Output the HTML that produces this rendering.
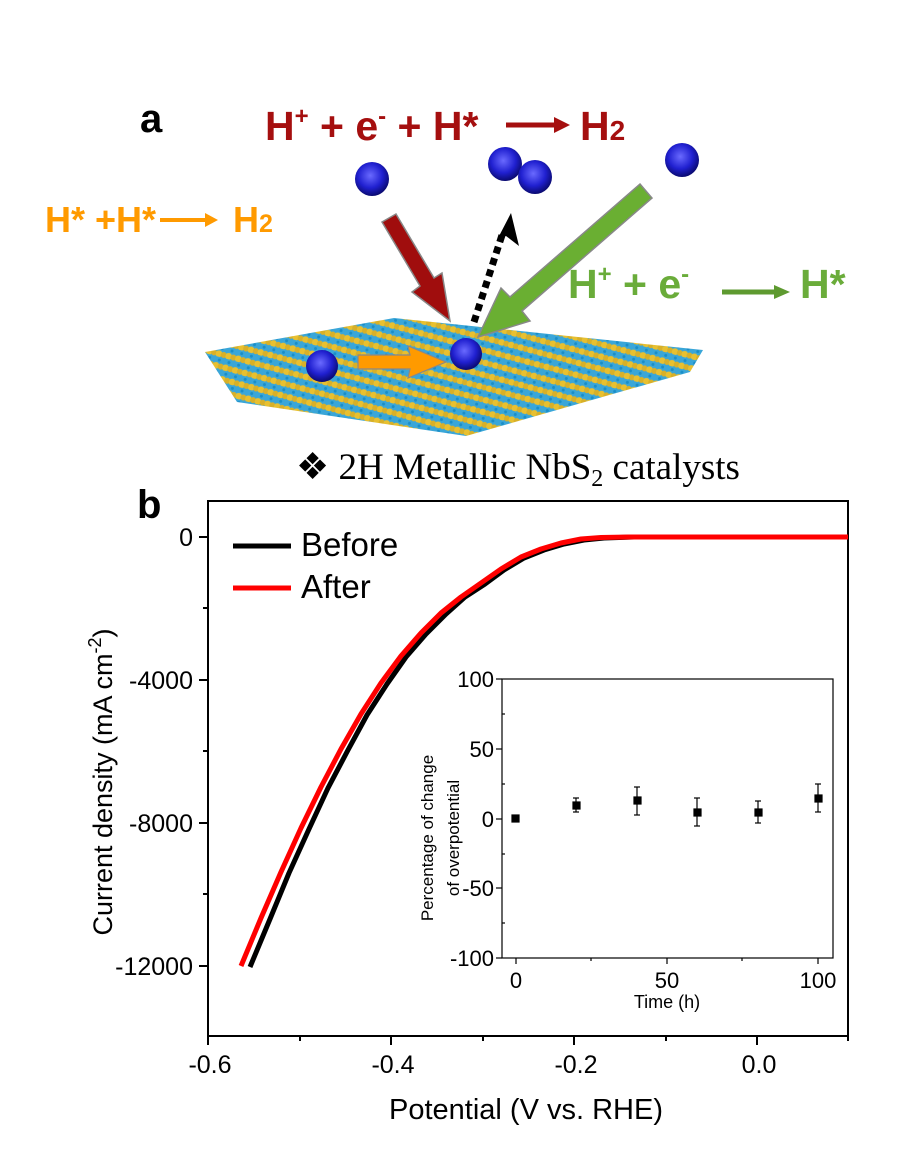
<!DOCTYPE html>
<html><head><meta charset="utf-8"><style>
html,body{margin:0;padding:0;background:#fff}
svg{display:block}
text{font-family:"Liberation Sans",Arial,sans-serif}
</style></head><body>
<svg width="905" height="1155" viewBox="0 0 905 1155" xmlns="http://www.w3.org/2000/svg">
<defs>
<radialGradient id="ball" cx="0.45" cy="0.4" r="0.6">
<stop offset="0" stop-color="#6a6aff"/><stop offset="0.6" stop-color="#2020d0"/><stop offset="1" stop-color="#0a0a70"/>
</radialGradient>
<pattern id="lat" width="12" height="10" patternUnits="userSpaceOnUse" patternTransform="rotate(-75)">
<rect width="12" height="10" fill="#3aa6d8"/>
<circle cx="3" cy="3" r="3.4" fill="#e8c030"/>
<circle cx="3" cy="8" r="3" fill="#d8b028"/>
<circle cx="9" cy="5" r="1.5" fill="#1a8ec8"/>
</pattern>
<clipPath id="sheet"><polygon points="205,352 394,318 703,350 690,372 466,436 237,402"/></clipPath>
</defs>

<!-- Panel a -->
<text x="140" y="132" font-size="40" font-weight="bold">a</text>
<text x="265" y="140" font-size="41" font-weight="bold" fill="#a50f0f">H<tspan font-size="24" dy="-16">+</tspan><tspan dy="16"> + e</tspan><tspan font-size="24" dy="-16">-</tspan><tspan dy="16"> + H*</tspan></text>
<line x1="506" y1="125" x2="558" y2="125" stroke="#a50f0f" stroke-width="5"/>
<polygon points="554,117 570,125 554,133" fill="#a50f0f"/>
<text x="580" y="140" font-size="41" font-weight="bold" fill="#a50f0f">H<tspan font-size="28">2</tspan></text>

<text x="45" y="232" font-size="36" font-weight="bold" fill="#ff9a00">H* +H*</text>
<line x1="160" y1="220" x2="210" y2="220" stroke="#ff9a00" stroke-width="4"/>
<polygon points="205,213 218,220 205,227" fill="#ff9a00"/>
<text x="233" y="232" font-size="36" font-weight="bold" fill="#ff9a00">H<tspan font-size="25">2</tspan></text>

<text x="568" y="298" font-size="41" font-weight="bold" fill="#6aac3a">H<tspan font-size="24" dy="-16">+</tspan><tspan dy="16"> + e</tspan><tspan font-size="24" dy="-16">-</tspan></text>
<line x1="722" y1="292" x2="778" y2="292" stroke="#5e9a30" stroke-width="5"/>
<polygon points="774,285 790,292 774,299" fill="#5e9a30"/>
<text x="800" y="298" font-size="41" font-weight="bold" fill="#6aac3a">H*</text>

<!-- sheet -->
<g clip-path="url(#sheet)"><rect x="200" y="300" width="510" height="140" fill="url(#lat)"/></g>

<!-- arrows -->
<polygon points="382,222 396,214 434,278 442,273 450,321 412,292 420,286" fill="#a00d0d" stroke="#888" stroke-width="1.5"/>
<polygon points="640,184 652,198 522,311 530,321 478,337 501,288 510,297" fill="#6aaf32" stroke="#888" stroke-width="1.5"/>
<line x1="474" y1="322" x2="503" y2="232" stroke="#000" stroke-width="7" stroke-dasharray="7,5"/>
<polygon points="497,240 511,213 519,246 506,236" fill="#000"/>
<polygon points="358,355 410,355 408,346 446,362 408,378 410,369 358,369" fill="#ff9a00" stroke="#888" stroke-width="1.2"/>

<circle cx="372" cy="179" r="17" fill="url(#ball)"/>
<circle cx="505" cy="164" r="17" fill="url(#ball)"/>
<circle cx="535" cy="177" r="17" fill="url(#ball)"/>
<circle cx="682" cy="160" r="17" fill="url(#ball)"/>
<circle cx="322" cy="366" r="16" fill="url(#ball)"/>
<circle cx="466" cy="354" r="16" fill="url(#ball)"/>

<!-- Panel b -->
<text x="518" y="479" font-size="37" text-anchor="middle" style="font-family:'Liberation Serif',serif">❖ 2H Metallic NbS<tspan font-size="24" dy="7">2</tspan><tspan dy="-7"> catalysts</tspan></text>
<text x="137" y="518" font-size="40" font-weight="bold">b</text>

<rect x="208" y="501" width="640" height="535" fill="none" stroke="#000" stroke-width="2"/>
<g stroke="#000" stroke-width="2">
<line x1="199" y1="537" x2="208" y2="537"/><line x1="199" y1="680" x2="208" y2="680"/>
<line x1="199" y1="823" x2="208" y2="823"/><line x1="199" y1="966" x2="208" y2="966"/>
<line x1="203" y1="608" x2="208" y2="608"/><line x1="203" y1="751" x2="208" y2="751"/>
<line x1="203" y1="894" x2="208" y2="894"/>
<line x1="208" y1="1036" x2="208" y2="1045"/><line x1="391" y1="1036" x2="391" y2="1045"/>
<line x1="574" y1="1036" x2="574" y2="1045"/><line x1="757" y1="1036" x2="757" y2="1045"/>
<line x1="300" y1="1036" x2="300" y2="1041"/><line x1="483" y1="1036" x2="483" y2="1041"/>
<line x1="666" y1="1036" x2="666" y2="1041"/><line x1="848" y1="1036" x2="848" y2="1041"/>
</g>
<g font-size="25" text-anchor="end">
<text x="193" y="546">0</text><text x="193" y="689">-4000</text>
<text x="193" y="832">-8000</text><text x="193" y="975">-12000</text>
</g>
<g font-size="25" text-anchor="middle">
<text x="210" y="1073">-0.6</text><text x="393" y="1073">-0.4</text>
<text x="576" y="1073">-0.2</text><text x="759" y="1073">0.0</text>
</g>
<text x="526" y="1119" font-size="29" text-anchor="middle">Potential (V vs. RHE)</text>
<text transform="translate(112,782) rotate(-90)" font-size="27" text-anchor="middle">Current density (mA cm<tspan font-size="18" dy="-11">-2</tspan><tspan dy="11">)</tspan></text>

<!-- legend -->
<line x1="233" y1="546" x2="291" y2="546" stroke="#000" stroke-width="5"/>
<text x="301" y="556" font-size="33">Before</text>
<line x1="233" y1="588" x2="291" y2="588" stroke="#f00" stroke-width="5"/>
<text x="301" y="598" font-size="33">After</text>

<!-- curves -->
<polyline fill="none" stroke="#000" stroke-width="5" stroke-linejoin="round" points="250,967 270,919 289,873 309,829 328,788 348,750 367,715 387,684 406,657 426,634 446,614 465,597 485,584 504,570 524,558 544,550 564,544 584,540 604,538 634,537 848,537"/>
<polyline fill="none" stroke="#f00" stroke-width="5" stroke-linejoin="round" points="241,966 261,918 281,872 301,828 321,787 341,749 361,714 381,683 401,656 421,633 441,613 461,597 481,583 501,569 521,557 541,549 561,543 581,539 601,537.5 630,537 848,537"/>

<!-- inset -->
<rect x="502" y="679" width="331" height="279" fill="#fff" stroke="#000" stroke-width="1.2"/>
<g stroke="#000" stroke-width="1.2">
<line x1="496" y1="679" x2="502" y2="679"/><line x1="496" y1="749" x2="502" y2="749"/>
<line x1="496" y1="819" x2="502" y2="819"/><line x1="496" y1="888" x2="502" y2="888"/>
<line x1="496" y1="958" x2="502" y2="958"/>
<line x1="502" y1="714" x2="505" y2="714"/><line x1="502" y1="784" x2="505" y2="784"/>
<line x1="502" y1="854" x2="505" y2="854"/><line x1="502" y1="923" x2="505" y2="923"/>
<line x1="516" y1="958" x2="516" y2="964"/><line x1="667" y1="958" x2="667" y2="964"/>
<line x1="818" y1="958" x2="818" y2="964"/>
<line x1="591" y1="958" x2="591" y2="961"/><line x1="742" y1="958" x2="742" y2="961"/>
</g>
<g font-size="22" text-anchor="end">
<text x="494" y="687">100</text><text x="494" y="757">50</text>
<text x="494" y="827">0</text><text x="494" y="896">-50</text><text x="494" y="966">-100</text>
</g>
<g font-size="22" text-anchor="middle">
<text x="516" y="988">0</text><text x="667" y="988">50</text><text x="818" y="988">100</text>
</g>
<text x="667" y="1008" font-size="18" text-anchor="middle">Time (h)</text>
<text transform="translate(433,838) rotate(-90)" font-size="17" text-anchor="middle">Percentage of change</text>
<text transform="translate(459,838) rotate(-90)" font-size="17" text-anchor="middle">of overpotential</text>
<g fill="#000" stroke="#000" stroke-width="1.2">
<rect x="512" y="815" width="7" height="7"/>
<line x1="576" y1="798" x2="576" y2="812"/><line x1="573" y1="798" x2="579" y2="798"/><line x1="573" y1="812" x2="579" y2="812"/><rect x="573" y="802" width="7" height="7"/>
<line x1="637" y1="787" x2="637" y2="815"/><line x1="634" y1="787" x2="640" y2="787"/><line x1="634" y1="815" x2="640" y2="815"/><rect x="634" y="797" width="7" height="7"/>
<line x1="697" y1="798" x2="697" y2="826"/><line x1="694" y1="798" x2="700" y2="798"/><line x1="694" y1="826" x2="700" y2="826"/><rect x="694" y="809" width="7" height="7"/>
<line x1="758" y1="801" x2="758" y2="823"/><line x1="755" y1="801" x2="761" y2="801"/><line x1="755" y1="823" x2="761" y2="823"/><rect x="755" y="809" width="7" height="7"/>
<line x1="818" y1="784" x2="818" y2="812"/><line x1="815" y1="784" x2="821" y2="784"/><line x1="815" y1="812" x2="821" y2="812"/><rect x="815" y="795" width="7" height="7"/>
</g>
</svg>
</body></html>
